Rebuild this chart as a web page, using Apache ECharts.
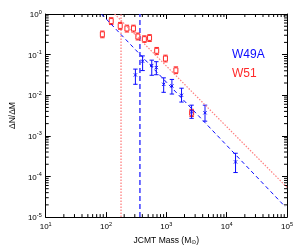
<!DOCTYPE html>
<html><head><meta charset="utf-8">
<script src="https://cdn.jsdelivr.net/npm/echarts@6/dist/echarts.min.js"></script>
<style>html,body{margin:0;padding:0;background:#fff}#c{width:300px;height:250px}</style>
</head><body><div id="c"></div>
<script>
// W49A (blue) mass bins, dN/dM, lower/upper error bounds
const w49aMass = [307, 404, 573, 682, 903, 1236, 1786, 2620, 4375, 14030];
const w49aVal  = [0.0316, 0.069, 0.054, 0.048, 0.0186, 0.017, 0.010, 0.0039, 0.0037, 2.28e-4];
const w49aLo   = [0.0186, 0.0405, 0.031, 0.032, 0.0118, 0.0107, 0.0068, 0.0027, 0.0023, 1.25e-4];
const w49aHi   = [0.044, 0.093, 0.073, 0.067, 0.0268, 0.0245, 0.0149, 0.0057, 0.0057, 3.73e-4];
// W51 (red)
const w51Mass = [87, 122, 172, 222, 285, 337, 432, 527, 692, 966, 1439, 2625];
const w51Val  = [0.316, 0.67, 0.51, 0.44, 0.44, 0.279, 0.24, 0.258, 0.124, 0.080, 0.041, 0.0037];
const w51Lo   = [0.26, 0.55, 0.42, 0.36, 0.36, 0.23, 0.20, 0.21, 0.10, 0.066, 0.034, 0.0030];
const w51Hi   = [0.38, 0.81, 0.62, 0.53, 0.53, 0.34, 0.29, 0.31, 0.15, 0.097, 0.050, 0.0045];
// power-law fits (end points) and completeness limits
const w49aFitMass = [84, 93300];
const w49aFitVal  = [1, 1.8e-5];
const w51FitMass  = [139, 100000];
const w51FitVal   = [1, 5.4e-5];
const w49aLimit = 358;
const w51Limit  = 174;
// axes
const xTicks = [10, 100, 1000, 10000, 100000];
const yTicks = [1e-5, 1e-4, 1e-3, 1e-2, 1e-1, 1];
const minorMult = [2, 3, 4, 5, 6, 7, 8, 9];

const BLUE = '#0a0aff', RED = '#ff2a2a';
const FONT = 'Liberation Sans, Arial, sans-serif';

function minors(ticks) {
  const out = [];
  for (let i = 0; i < ticks.length - 1; i++) minorMult.forEach(m => out.push(ticks[i] * m));
  return out;
}
const xMinor = minors(xTicks), yMinor = minors(yTicks);

function supLabel(v) {
  const e = Math.round(Math.log10(v));
  return '{b|10}{s|' + e + '}';
}
const labelRich = {
  b: {fontSize: 8, fontFamily: FONT, color: '#000', verticalAlign: 'bottom'},
  s: {fontSize: 5.5, fontFamily: FONT, color: '#000', verticalAlign: 'bottom', padding: [0, 0, 4, 0]}
};

function errRender(color, kind) {
  return function (params, api) {
    const x = api.value(0), y = api.value(1), lo = api.value(2), hi = api.value(3);
    const p = api.coord([x, y]), pl = api.coord([x, lo]), ph = api.coord([x, hi]);
    const cw = 2.2;
    const st = {stroke: color, lineWidth: 1};
    const ch = [
      {type: 'line', shape: {x1: p[0], y1: pl[1], x2: p[0], y2: ph[1]}, style: st},
      {type: 'line', shape: {x1: p[0] - cw, y1: pl[1], x2: p[0] + cw, y2: pl[1]}, style: st},
      {type: 'line', shape: {x1: p[0] - cw, y1: ph[1], x2: p[0] + cw, y2: ph[1]}, style: st}
    ];
    if (kind === 'x') {
      const s = 1.6;
      ch.push({type: 'line', shape: {x1: p[0] - s, y1: p[1] - s, x2: p[0] + s, y2: p[1] + s}, style: st});
      ch.push({type: 'line', shape: {x1: p[0] - s, y1: p[1] + s, x2: p[0] + s, y2: p[1] - s}, style: st});
    } else {
      ch.push({type: 'rect', shape: {x: p[0] - 2, y: p[1] - 2.5, width: 4, height: 5}, style: {stroke: color, fill: '#fff', lineWidth: 1}});
    }
    return {type: 'group', children: ch};
  };
}

function vline(params, api) {
  const b = api.coord([api.value(0), yTicks[0]]);
  const t = api.coord([api.value(0), yTicks[yTicks.length - 1]]);
  const isBlue = api.value(1) === 1;
  return {type: 'line', shape: {x1: b[0] + 0.5, y1: b[1], x2: t[0] + 0.5, y2: t[1]},
    style: {stroke: isBlue ? '#3030ff' : '#ff8a8a', lineWidth: 1.4,
      lineDash: isBlue ? [5, 3] : [1.5, 1.5]}};
}

const chart = echarts.init(document.getElementById('c'), null, {renderer: 'canvas'});
const axisLine = {show: true, onZero: false, lineStyle: {color: '#000', width: 1}};
const axisTick = {show: true, inside: true, length: 5, lineStyle: {color: '#000', width: 1}};
const common = {type: 'log', logBase: 10, splitLine: {show: false}, axisLine, axisTick};

chart.setOption({
  animation: false,
  backgroundColor: '#fff',
  grid: {left: 44, top: 14, width: 243, height: 210, containLabel: false},
  legend: {
    orient: 'vertical', left: 222, top: 44, itemWidth: 0, itemHeight: 0, itemGap: 7,
    selectedMode: false,
    textStyle: {fontSize: 12, fontFamily: FONT},
    data: [
      {name: 'W49A', icon: 'rect', textStyle: {color: BLUE}},
      {name: 'W51', icon: 'rect', textStyle: {color: RED}}
    ]
  },
  xAxis: [
    Object.assign({}, common, {
      min: xTicks[0], max: xTicks[xTicks.length - 1], position: 'bottom',
      axisLabel: {margin: 4, formatter: supLabel, rich: labelRich},
      name: '{a|JCMT Mass (M}{sub|⊙}{a|)}', nameLocation: 'middle', nameGap: 12,
      nameTextStyle: {rich: {
        a: {fontSize: 8.5, fontFamily: FONT, color: '#000', verticalAlign: 'top'},
        sub: {fontSize: 6, fontFamily: 'DejaVu Sans', color: '#000', verticalAlign: 'top', padding: [3, 0, 0, 0]}
      }}
    }),
    Object.assign({}, common, {
      min: xTicks[0], max: xTicks[xTicks.length - 1], position: 'top',
      axisLabel: {show: false}
    })
  ],
  yAxis: [
    Object.assign({}, common, {
      min: yTicks[0], max: yTicks[yTicks.length - 1], position: 'left',
      axisLabel: {margin: 4, formatter: supLabel, rich: labelRich},
      name: 'ΔN/ΔM', nameLocation: 'middle', nameGap: 22, nameRotate: 90,
      nameTextStyle: {fontSize: 8.5, fontFamily: FONT, color: '#000'}
    }),
    Object.assign({}, common, {
      min: yTicks[0], max: yTicks[yTicks.length - 1], position: 'right',
      axisLabel: {show: false}
    })
  ],
  series: [
    {
      name: 'xMinor', type: 'custom', silent: true, xAxisIndex: 0, yAxisIndex: 0,
      data: xMinor.map(v => [v, 1]),
      renderItem: function (params, api) {
        const b = api.coord([api.value(0), yTicks[0]]);
        const t = api.coord([api.value(0), yTicks[yTicks.length - 1]]);
        const st = {stroke: '#000', lineWidth: 1};
        return {type: 'group', children: [
          {type: 'line', shape: {x1: b[0], y1: b[1], x2: b[0], y2: b[1] - 3}, style: st},
          {type: 'line', shape: {x1: t[0], y1: t[1], x2: t[0], y2: t[1] + 3}, style: st}
        ]};
      }
    },
    {
      name: 'yMinor', type: 'custom', silent: true, xAxisIndex: 0, yAxisIndex: 0,
      data: yMinor.map(v => [10, v]),
      renderItem: function (params, api) {
        const l = api.coord([xTicks[0], api.value(1)]);
        const r = api.coord([xTicks[xTicks.length - 1], api.value(1)]);
        const st = {stroke: '#000', lineWidth: 1};
        return {type: 'group', children: [
          {type: 'line', shape: {x1: l[0], y1: l[1], x2: l[0] + 3, y2: l[1]}, style: st},
          {type: 'line', shape: {x1: r[0], y1: r[1], x2: r[0] - 3, y2: r[1]}, style: st}
        ]};
      }
    },
    {
      name: 'limits', type: 'custom', silent: true,
      encode: {x: 0, y: 1},
      data: [[w51Limit, 0.5], [w49aLimit, 1]],
      renderItem: vline
    },
    {
      name: 'W51 fit', type: 'line', symbol: 'none', silent: true, clip: true,
      data: w51FitMass.map((m, i) => [m, w51FitVal[i]]),
      lineStyle: {color: '#ff8080', width: 1.2, type: [1.5, 1.5]}
    },
    {
      name: 'W49A fit', type: 'line', symbol: 'none', silent: true, clip: true,
      data: w49aFitMass.map((m, i) => [m, w49aFitVal[i]]),
      lineStyle: {color: BLUE, width: 1, type: [4, 3]}
    },
    {
      name: 'W51', type: 'custom', color: RED,
      encode: {x: 0, y: [1, 2, 3]},
      data: w51Mass.map((m, i) => [m, w51Val[i], w51Lo[i], w51Hi[i]]),
      renderItem: errRender(RED, 'sq')
    },
    {
      name: 'W49A', type: 'custom', color: BLUE,
      encode: {x: 0, y: [1, 2, 3]},
      data: w49aMass.map((m, i) => [m, w49aVal[i], w49aLo[i], w49aHi[i]]),
      renderItem: errRender(BLUE, 'x')
    }
  ]
});
</script>
</body></html>
